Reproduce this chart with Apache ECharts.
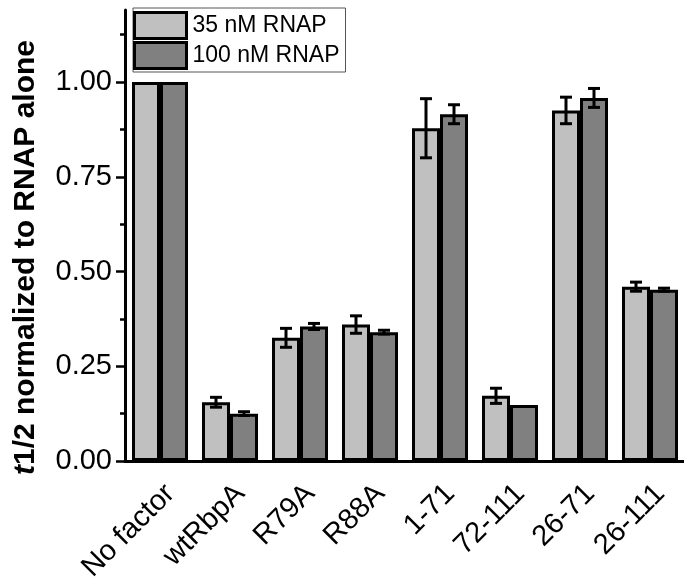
<!DOCTYPE html>
<html>
<head>
<meta charset="utf-8">
<script src="https://cdn.jsdelivr.net/npm/echarts@6/dist/echarts.min.js"></script>
<style>html,body{margin:0;padding:0;background:#fff}#c{width:684px;height:579px}</style>
</head>
<body>
<div id="c"></div>
<script>
const categories = ['No factor', 'wtRbpA', 'R79A', 'R88A', '1-71', '72-111', '26-71', '26-111'];
const seriesNames = ['35 nM RNAP', '100 nM RNAP'];
const values35 = [1.0, 0.155, 0.325, 0.36, 0.878, 0.172, 0.925, 0.46];
const values100 = [1.0, 0.125, 0.355, 0.34, 0.915, 0.148, 0.958, 0.452];
const err35 = [0, 0.013, 0.025, 0.023, 0.078, 0.02, 0.035, 0.012];
const err100 = [0, 0.005, 0.008, 0.005, 0.025, 0, 0.025, 0.004];
const yTicks = [0, 0.25, 0.5, 0.75, 1.0];
const yMinorTicks = [0.125, 0.375, 0.625, 0.875, 1.125];

const errData = [];
categories.forEach((c, i) => {
  if (err35[i] > 0) errData.push([i, values35[i] - err35[i], values35[i] + err35[i], 0]);
  if (err100[i] > 0) errData.push([i, values100[i] - err100[i], values100[i] + err100[i], 1]);
});

const font = 'Liberation Sans, Arial, sans-serif';
const chart = echarts.init(document.getElementById('c'));
chart.setOption({
  animation: false,
  backgroundColor: '#fff',
  grid: { left: 125, top: 10, width: 560, bottom: 118, containLabel: false, outerBoundsMode: 'none' },
  legend: {
    orient: 'vertical',
    left: 133, top: 8,
    padding: [3, 6, 2, 0],
    itemGap: 1,
    itemWidth: 52, itemHeight: 26,
    icon: 'rect',
    backgroundColor: '#fff',
    borderColor: '#555', borderWidth: 1,
    itemStyle: { borderColor: '#000', borderWidth: 3 },
    textStyle: { fontFamily: font, fontSize: 23, color: '#000', padding: [0, 0, 0, 1] },
    data: seriesNames
  },
  xAxis: [{
    type: 'category', data: categories, position: 'bottom',
    axisLine: { lineStyle: { color: '#000', width: 3 } },
    axisTick: { alignWithLabel: true, length: 7, lineStyle: { color: '#000', width: 3 } },
    axisLabel: { rotate: 45, interval: 0, margin: 18, verticalAlign: 'top', color: '#000', fontFamily: font, fontSize: 29 }
  }, {
    type: 'category', data: categories, position: 'bottom',
    axisLine: { show: false },
    axisTick: { alignWithLabel: false, length: 3, lineStyle: { color: '#000', width: 3 } },
    axisLabel: { show: false }
  }],
  yAxis: [{
    type: 'value', min: 0, max: 1.19, interval: 0.25, position: 'left',
    name: '{i|t}{b|1/2} normalized to RNAP alone',
    nameLocation: 'middle', nameGap: 84,
    nameTextStyle: {
      fontFamily: font, fontSize: 30, fontWeight: 'bold', color: '#000',
      padding: [0, 44, 0, 0],
      rich: {
        i: { fontFamily: font, fontSize: 30, fontWeight: 'bold', fontStyle: 'italic', color: '#000' },
        b: { fontFamily: font, fontSize: 30, fontWeight: 'bold', color: '#000' }
      }
    },
    axisLine: { show: true, lineStyle: { color: '#000', width: 3 } },
    axisTick: { show: true, customValues: yTicks, length: 9, lineStyle: { color: '#000', width: 2.5 } },
    axisLabel: { customValues: yTicks, margin: 13, color: '#000', fontFamily: font, fontSize: 29,
      formatter: v => v.toFixed(2) },
    splitLine: { show: false }
  }, {
    type: 'value', min: 0, max: 1.19, position: 'left',
    axisLine: { show: false },
    axisTick: { show: true, customValues: yMinorTicks, length: 5, lineStyle: { color: '#000', width: 2.5 } },
    axisLabel: { show: false },
    splitLine: { show: false }
  }],
  series: [{
    name: seriesNames[0], type: 'bar', data: values35, xAxisIndex: 0, yAxisIndex: 0,
    barGap: '0%', barCategoryGap: '20%',
    itemStyle: { color: '#c0c0c0', borderColor: '#000', borderWidth: 3 }
  }, {
    name: seriesNames[1], type: 'bar', data: values100, xAxisIndex: 0, yAxisIndex: 0,
    barGap: '0%', barCategoryGap: '20%',
    itemStyle: { color: '#808080', borderColor: '#000', borderWidth: 3 }
  }, {
    type: 'custom', xAxisIndex: 0, yAxisIndex: 0, z: 10,
    encode: { x: 0, y: [1, 2] },
    data: errData,
    renderItem: function (params, api) {
      const ci = api.value(0);
      const lo = api.coord([ci, api.value(1)]);
      const hi = api.coord([ci, api.value(2)]);
      const bw = api.size([1, 0])[0] * 0.8 / 2;
      const x = lo[0] + (api.value(3) === 0 ? -0.5 : 0.5) * bw;
      const cap = 6;
      const st = { stroke: '#000', lineWidth: 3 };
      return {
        type: 'group',
        children: [
          { type: 'line', shape: { x1: x, y1: lo[1], x2: x, y2: hi[1] }, style: st },
          { type: 'line', shape: { x1: x - cap, y1: lo[1], x2: x + cap, y2: lo[1] }, style: st },
          { type: 'line', shape: { x1: x - cap, y1: hi[1], x2: x + cap, y2: hi[1] }, style: st }
        ]
      };
    }
  }]
});
</script>
</body>
</html>
